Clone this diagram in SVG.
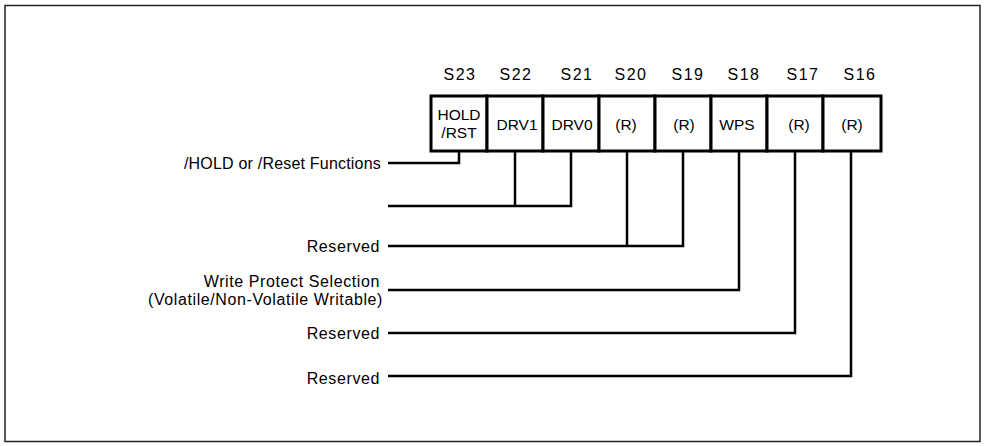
<svg xmlns="http://www.w3.org/2000/svg" width="985" height="446" viewBox="0 0 985 446">
<style>
text{font-family:"Liberation Sans",Arial,sans-serif;fill:#000;}
.hd{font-size:16px;text-anchor:middle;letter-spacing:1.5px;}
.bx{font-size:15.5px;text-anchor:middle;}
.lb{font-size:16px;text-anchor:end;letter-spacing:0.6px;}
.cell{fill:#fff;stroke:#000;stroke-width:3;}
.ln{fill:none;stroke:#000;stroke-width:2.5;}
</style>
<rect x="5" y="5.5" width="975" height="436" fill="#fff" stroke="#222" stroke-width="1.5"/>
<g id="headers">
<text class="hd" x="460" y="80">S23</text>
<text class="hd" x="516" y="80">S22</text>
<text class="hd" x="577" y="80">S21</text>
<text class="hd" x="631" y="80">S20</text>
<text class="hd" x="688" y="80">S19</text>
<text class="hd" x="744" y="80">S18</text>
<text class="hd" x="803" y="80">S17</text>
<text class="hd" x="860" y="80">S16</text>
</g>
<g id="connectors">
<polyline class="ln" points="388,163 459,163 459,150"/>
<polyline class="ln" points="388,206 571,206 571,150"/>
<line class="ln" x1="515" y1="150" x2="515" y2="206"/>
<polyline class="ln" points="388,246 683,246 683,150"/>
<line class="ln" x1="627" y1="150" x2="627" y2="246"/>
<polyline class="ln" points="388,290 739,290 739,150"/>
<polyline class="ln" points="388,333 795,333 795,150"/>
<polyline class="ln" points="388,376 851,376 851,150"/>
</g>
<g id="s23"><rect class="cell" x="431" y="96" width="56" height="55"/><text class="bx" x="459" y="120">HOLD</text><text class="bx" x="459" y="138">/RST</text></g>
<g id="s22"><rect class="cell" x="487" y="96" width="56" height="55"/><text class="bx" x="517" y="130">DRV1</text></g>
<g id="s21"><rect class="cell" x="543" y="96" width="56" height="55"/><text class="bx" x="572" y="130">DRV0</text></g>
<g id="s20"><rect class="cell" x="599" y="96" width="56" height="55"/><text class="bx" x="626" y="130">(R)</text></g>
<g id="s19"><rect class="cell" x="655" y="96" width="56" height="55"/><text class="bx" x="684" y="130">(R)</text></g>
<g id="s18"><rect class="cell" x="711" y="96" width="56" height="55"/><text class="bx" x="737" y="130">WPS</text></g>
<g id="s17"><rect class="cell" x="767" y="96" width="56" height="55"/><text class="bx" x="799" y="130">(R)</text></g>
<g id="s16"><rect class="cell" x="823" y="96" width="58" height="55"/><text class="bx" x="852" y="130">(R)</text></g>
<g id="labels">
<text class="lb" x="381" y="169" style="letter-spacing:0.2px">/HOLD or /Reset Functions</text>
<text class="lb" x="380" y="252">Reserved</text>
<text class="lb" x="380" y="287">Write Protect Selection</text>
<text class="lb" x="383" y="305">(Volatile/Non-Volatile Writable)</text>
<text class="lb" x="380" y="339">Reserved</text>
<text class="lb" x="380" y="384">Reserved</text>
</g>
</svg>
